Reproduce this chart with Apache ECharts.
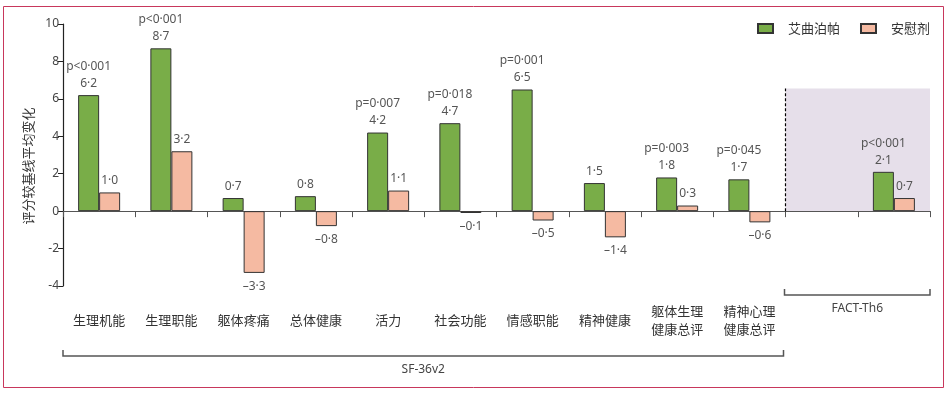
<!DOCTYPE html>
<html>
<head>
<meta charset="utf-8">
<script src="https://cdn.jsdelivr.net/npm/echarts@6/dist/echarts.min.js"></script>
<style>
html,body{margin:0;padding:0;background:#fff;}
#chart{width:947px;height:394px;}
</style>
</head>
<body>
<div id="chart"></div>
<script>
const categories = ['生理机能','生理职能','躯体疼痛','总体健康','活力','社会功能','情感职能','精神健康','躯体生理\n健康总评','精神心理\n健康总评',' ','  '];
const drugValues = [6.2, 8.7, 0.7, 0.8, 4.2, 4.7, 6.5, 1.5, 1.8, 1.7, null, 2.1];
const placeboValues = [1.0, 3.2, -3.3, -0.8, 1.1, -0.1, -0.5, -1.4, 0.3, -0.6, null, 0.7];
const pValues = ['p<0·001','p<0·001','','','p=0·007','p=0·018','p=0·001','','p=0·003','p=0·045','','p<0·001'];
const seriesNames = ['艾曲泊帕','安慰剂'];
const yAxisTitle = '评分较基线平均变化';
const yTicks = {min: -4, max: 10, interval: 2};
const groups = [{name: 'SF-36v2', from: 0, to: 10}, {name: 'FACT-Th6', from: 10, to: 12}];
const shadeTop = 6.55;

const FONT = '"Noto Sans CJK SC", "Noto Sans", sans-serif';
const NUMFONT = '"Noto Sans", "Noto Sans CJK SC", sans-serif';
const fmt = v => (v < 0 ? '–' : '') + Math.abs(v).toFixed(1).replace('.', '·');

const chart = echarts.init(document.getElementById('chart'));

function barData(values, withP) {
  return values.map((v, i) => {
    if (v === null) return '-';
    return {
      value: v,
      label: {
        show: true,
        position: v < 0 ? 'bottom' : 'top',
        distance: v < 0 ? 5 : 3,
        formatter: () => (withP && pValues[i] ? pValues[i] + '\n' : '') + fmt(v)
      }
    };
  });
}

const labelStyle = {color: '#555', fontSize: 12, fontFamily: NUMFONT, lineHeight: 17};

chart.setOption({
  animation: false,
  textStyle: {fontFamily: FONT},
  grid: {left: 63, right: 17, top: 24, bottom: 108, containLabel: false, outerBoundsMode: 'none'},
  legend: {
    data: seriesNames,
    right: 12, top: 17,
    itemWidth: 15, itemHeight: 9, itemGap: 20,
    icon: 'rect',
    textStyle: {color: '#333', fontSize: 13, fontFamily: FONT, padding: [0, 0, 0, 10]}
  },
  xAxis: [{
    type: 'category',
    data: categories,
    axisLine: {lineStyle: {color: '#555', width: 1.2}},
    axisTick: {show: true, length: 6, lineStyle: {color: '#555'}},
    axisLabel: {color: '#333', fontSize: 13, lineHeight: 18, margin: 34, verticalAlign: 'middle', interval: 0, fontFamily: FONT},
    splitLine: {show: false}
  }, {
    type: 'value', min: 0, max: 12, show: false, position: 'bottom'
  }],
  yAxis: {
    type: 'value',
    min: yTicks.min, max: yTicks.max, interval: yTicks.interval,
    axisLine: {show: true, lineStyle: {color: '#222', width: 1.2}},
    axisTick: {show: true, length: 5, lineStyle: {color: '#222'}},
    axisLabel: {color: '#444', fontSize: 12, margin: 4, fontFamily: NUMFONT, formatter: v => (v < 0 ? '-' : '') + Math.abs(v)},
    splitLine: {show: false}
  },
  series: [{
    name: seriesNames[0],
    type: 'bar',
    barWidth: 21,
    barGap: '0%',
    itemStyle: {color: '#79ad48', borderColor: '#333', borderWidth: 1},
    label: labelStyle,
    data: barData(drugValues, true)
  }, {
    name: seriesNames[1],
    type: 'bar',
    barWidth: 21,
    barGap: '0%',
    itemStyle: {color: '#f5baa2', borderColor: '#333', borderWidth: 1},
    label: labelStyle,
    data: barData(placeboValues, false)
  }, {
    name: 'divider',
    type: 'line',
    xAxisIndex: 1,
    z: 5,
    symbol: 'none',
    silent: true,
    lineStyle: {color: '#000', width: 1.2, type: [3, 2]},
    data: [[groups[1].from, 0], [groups[1].from, shadeTop]],
    markArea: {
      silent: true,
      z: 0,
      itemStyle: {color: '#e6dfea'},
      data: [[{xAxis: groups[1].from, yAxis: 0}, {xAxis: groups[1].to, yAxis: shadeTop}]]
    }
  }]
});

// group brackets below the axis, y-axis title, frame
const gfx = [];
groups.forEach((g, k) => {
  const x0 = chart.convertToPixel({xAxisIndex: 1}, g.from) + (k === 1 ? -1 : 0);
  const x1 = chart.convertToPixel({xAxisIndex: 1}, g.to) - (k === 0 ? 2 : 0);
  const y = k === 0 ? 356 : 295;
  gfx.push({
    type: 'polyline',
    shape: {points: [[x0, y - 6], [x0, y], [x1, y], [x1, y - 6]]},
    style: {stroke: '#555', lineWidth: 1.5, fill: null}
  });
  gfx.push({
    type: 'text',
    x: (x0 + x1) / 2, y: y + 14,
    style: {text: g.name, fill: '#444', fontSize: 12, fontFamily: NUMFONT, align: 'center', verticalAlign: 'middle'}
  });
});
gfx.push({
  type: 'text',
  x: 28, y: 166, rotation: Math.PI / 2,
  style: {text: yAxisTitle, fill: '#333', fontSize: 13, fontFamily: FONT, align: 'center', verticalAlign: 'middle'}
});
gfx.push({
  type: 'rect', silent: true,
  shape: {x: 3.5, y: 6.5, width: 940, height: 381},
  style: {fill: null, stroke: '#c8375c', lineWidth: 1}
});
chart.setOption({graphic: gfx});
</script>
</body>
</html>
